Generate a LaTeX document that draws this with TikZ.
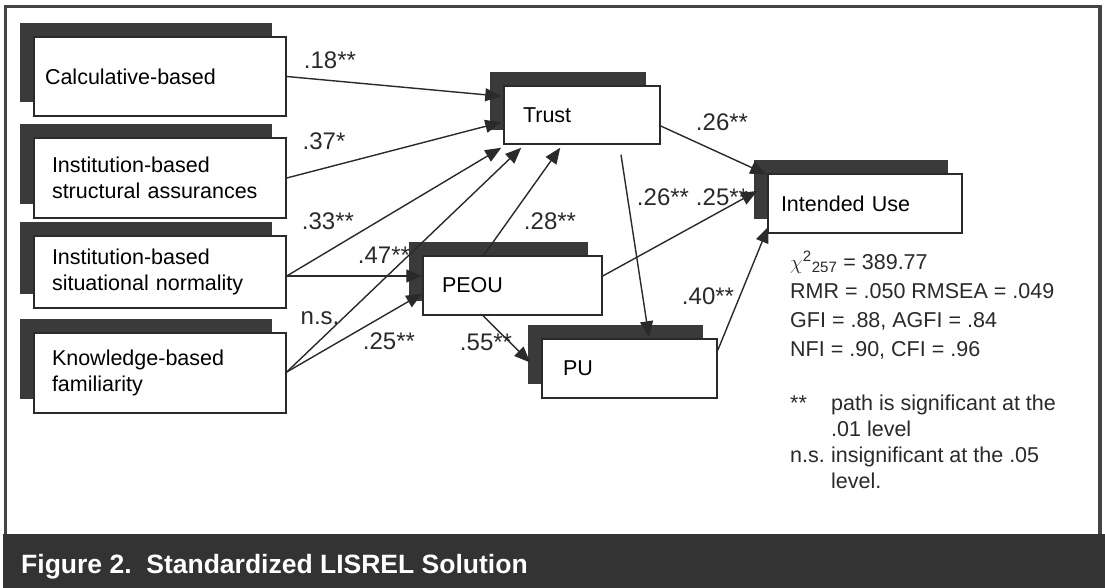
\documentclass[tikz,border=0pt]{standalone}
\usepackage{fontspec}
\setmainfont{Liberation Sans}
\usetikzlibrary{arrows.meta,shadows,calc}
\definecolor{shgray}{HTML}{3A3A3A}
\definecolor{lngray}{HTML}{2A2A2A}
\definecolor{bandgray}{HTML}{333333}
\definecolor{framegray}{HTML}{444444}
\begin{document}
\begin{tikzpicture}[x=1pt,y=-1pt,
  box/.style={draw=lngray, line width=1.5pt, fill=white,
    drop shadow={shadow xshift=-14pt, shadow yshift=14pt, fill=shgray, opacity=1},
    font=\fontsize{21.5}{26}\selectfont, align=left, inner ysep=0pt},
  conn/.style={draw=lngray, line width=1.4pt, -{Triangle[length=16pt,width=13pt]}},
  lab/.style={font=\fontsize{24}{28}\selectfont, inner sep=0pt, text=lngray}]
\useasboundingbox (0,0) rectangle (1105,588);
\fill[white] (0,0) rectangle (1105,588);
% frame and caption band
\draw[framegray, line width=3.5pt] (5.5,6.5) rectangle (1100,536);
\fill[bandgray] (3,534) rectangle (1105,588);
\node[anchor=base west, text=white, inner sep=0pt, font=\bfseries\fontsize{26.5}{30}\selectfont] (cap) at (21,573) {Figure 2.\ \ Standardized LISREL Solution};
% path labels
\node[lab] (l18) at (330,60) {.18**};
\node[lab] (l37) at (324,141) {.37*};
\node[lab] (l33) at (328,221) {.33**};
\node[lab] (l47) at (384,255) {.47**};
\node[lab] (lns) at (320,318) {n.s.};
\node[lab] (l25a) at (389,341) {.25**};
\node[lab] (l55) at (486,342) {.55**};
\node[lab] (l28) at (550,221) {.28**};
\node[lab] (l26a) at (722,122) {.26**};
\node[lab] (l26b) at (663,197) {.26**};
\node[lab] (l25b) at (722,197) {.25**};
\node[lab] (l40) at (708,296) {.40**};
% boxes
\node[box, text width=230pt, inner xsep=11pt, minimum height=79pt] (calc) at (160,76.5) {Calculative-based};
\node[box, text width=216pt, inner xsep=18pt, minimum height=80pt] (inst) at (160,178) {Institution-based\\structural assurances};
\node[box, text width=216pt, inner xsep=18pt, minimum height=72pt] (sit) at (160,272) {Institution-based\\situational normality};
\node[box, text width=216pt, inner xsep=18pt, minimum height=80pt] (know) at (160,373) {Knowledge-based\\familiarity};
\node[box, text width=118pt, inner xsep=19pt, minimum height=58pt] (trust) at (582,115) {Trust};
\node[box, text width=141pt, inner xsep=19pt, minimum height=59pt] (peou) at (512.5,285.5) {PEOU};
\node[box, text width=133pt, inner xsep=21pt, minimum height=59pt] (pu) at (629.5,368.5) {PU};
\node[box, text width=168pt, inner xsep=13pt, minimum height=59pt] (iu) at (865,203.5) {Intended Use};
% connectors
\draw[conn] (calc.east) -- ($(trust.north west)+(-2,11)$);
\draw[conn] (inst.east) -- ($(trust.north west)+(-2,37)$);
\draw[conn] ($(sit.east)+(0,4)$) -- ($(trust.south west)+(-2,3)$);
\draw[conn] ($(know.east)+(0,-1)$) -- ($(trust.south west)+(18,3)$);
\draw[conn] ($(peou.north)+(-29.5,1)$) -- ($(trust.south west)+(57,3)$);
\draw[conn] ($(sit.east)+(0,4)$) -- ($(peou.west)+(0,-9.5)$);
\draw[conn] ($(know.east)+(0,-1)$) -- ($(peou.west)+(0,8)$);
\draw[conn] ($(peou.south)+(-29.5,0)$) -- ($(pu.west)+(-11,-6)$);
\draw[conn] ($(peou.east)+(0,-9.5)$) -- ($(iu.west)+(-10,-12.5)$);
\draw[conn] ($(trust.east)+(0,11)$) -- ($(iu.north west)+(-1,1)$);
\draw[conn] ($(trust.south)+(39,10)$) -- ($(pu.north)+(19.5,-1)$);
\draw[conn] ($(pu.north east)+(0,12)$) -- ($(iu.south west)+(1,-7)$);
% fit statistics and legend
\node[anchor=base west, inner sep=0pt, text=lngray, font=\fontsize{21.5}{29}\selectfont] (fit) at (790,269)
  {\begin{tabular}[t]{@{}l@{}}$\chi$\textsuperscript{2}\textsubscript{257} = 389.77\\ RMR = .050 RMSEA = .049\\ GFI = .88, AGFI = .84\\ NFI = .90, CFI = .96\end{tabular}};
\node[anchor=base west, inner sep=0pt, text=lngray, font=\fontsize{21.5}{26}\selectfont] (legend) at (790,410)
  {\begin{tabular}[t]{@{}p{41pt}@{}l@{}}**&path is significant at the\\ &.01 level\\ n.s.&insignificant at the .05\\ &level.\end{tabular}};
\end{tikzpicture}
\end{document}
